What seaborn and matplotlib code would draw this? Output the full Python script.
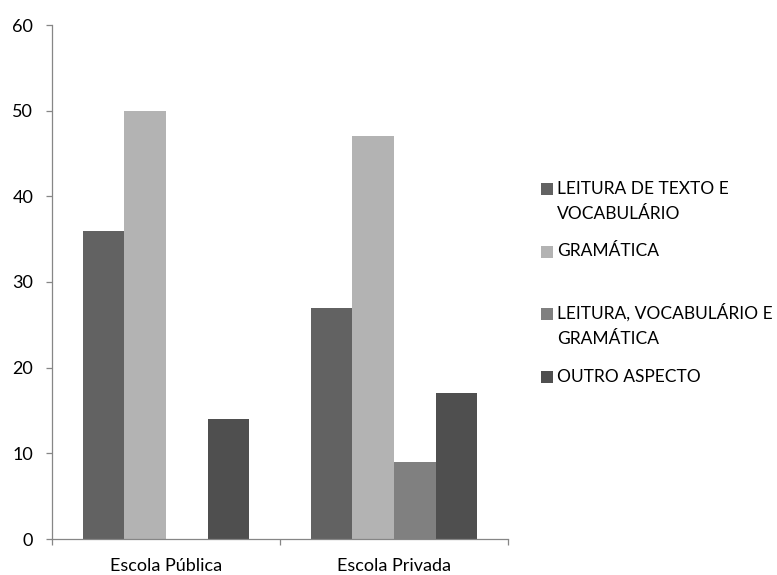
import matplotlib
matplotlib.use("Agg")
import matplotlib.pyplot as plt
from matplotlib.patches import Rectangle
import seaborn as sns
import pandas as pd

escolas = ["Escola Pública", "Escola Privada"]
aspectos = ["LEITURA DE TEXTO E VOCABULÁRIO", "GRAMÁTICA",
            "LEITURA, VOCABULÁRIO E GRAMÁTICA", "OUTRO ASPECTO"]
legenda = ["LEITURA DE TEXTO E\nVOCABULÁRIO", "GRAMÁTICA",
           "LEITURA, VOCABULÁRIO E\nGRAMÁTICA", "OUTRO ASPECTO"]
valores_publica = [36, 50, 0, 14]
valores_privada = [27, 47, 9, 17]
cores = ["#626262", "#b3b3b3", "#808080", "#4f4f4f"]
yticks = [0, 10, 20, 30, 40, 50, 60]

rows = []
for esc, vals in zip(escolas, [valores_publica, valores_privada]):
    for asp, v in zip(aspectos, vals):
        rows.append({"escola": esc, "aspecto": asp, "valor": v})
df = pd.DataFrame(rows)

sns.set_theme(style="ticks")
plt.rcParams["font.family"] = ["Lato", "DejaVu Sans"]

fig = plt.figure(figsize=(7.77, 5.75), dpi=100)
ax = fig.add_axes([52/777, 1-539/575, 456/777, 514/575])

sns.barplot(data=df, x="escola", y="valor", hue="aspecto", hue_order=aspectos,
            order=escolas, palette=cores, saturation=1, width=0.73, gap=0,
            legend=False, ax=ax, linewidth=0, errorbar=None)

axc = "#868686"
ax.set_xlim(-0.5, 1.5)
ax.set_ylim(0, 60)
ax.set_yticks(yticks)
ax.set_yticklabels([str(t) for t in yticks], fontsize=13, color="#000000")
ax.set_xticks([0, 1])
ax.set_xticklabels(escolas, fontsize=13, color="#000000")
ax.set_xticks([-0.5, 0.5, 1.5], minor=True)
ax.tick_params(axis="x", which="major", bottom=True, length=0, pad=14)
ax.tick_params(axis="x", which="minor", bottom=True, length=4.5, color=axc, width=0.9, direction="out")
ax.tick_params(axis="y", which="major", left=True, length=4.5, color=axc, width=0.9, direction="out", pad=9)
ax.tick_params(axis="y", which="minor", left=False)
ax.set_xlabel("")
ax.set_ylabel("")
for s in ["top", "right"]:
    ax.spines[s].set_visible(False)
for s in ["left", "bottom"]:
    ax.spines[s].set_color(axc)
    ax.spines[s].set_linewidth(0.9)

# legend
for i, (lab, c) in enumerate(zip(legenda, cores)):
    yc = 189 + i * 62.5
    fig.patches.append(Rectangle((541/777, 1-(yc+6)/575), 12/777, 12/575,
                                 transform=fig.transFigure, facecolor=c, edgecolor="none"))
    for k, line in enumerate(lab.split("\n")):
        fig.text(557/777, 1-(yc+5+k*25)/575, line, fontsize=12.5, va="baseline",
                 ha="left", color="#000000")

fig.savefig("out.png", dpi=100)
